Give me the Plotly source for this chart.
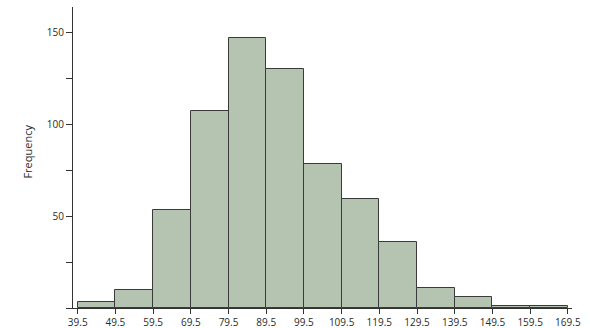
import plotly.graph_objects as go

bin_edges = [39.5, 49.5, 59.5, 69.5, 79.5, 89.5, 99.5, 109.5, 119.5, 129.5, 139.5, 149.5, 159.5, 169.5]
frequencies = [3, 10, 53, 107, 147, 130, 78, 59, 36, 11, 6, 1, 1]
y_tick_vals = [0, 25, 50, 75, 100, 125, 150]
y_tick_text = ["", "", "50", "", "100", "", "150"]
x_tick_text = [f"{v:.1f}" for v in bin_edges]

centers = [(bin_edges[i] + bin_edges[i + 1]) / 2 for i in range(len(frequencies))]
widths = [bin_edges[i + 1] - bin_edges[i] for i in range(len(frequencies))]

font_family = "Open Sans, Noto Sans, DejaVu Sans, sans-serif"

fig = go.Figure(
    go.Bar(
        x=centers,
        y=frequencies,
        width=widths,
        marker=dict(color="#b5c4b0", line=dict(color="#3a3a3a", width=1)),
        hoverinfo="skip",
    )
)

fig.update_layout(
    width=590,
    height=328,
    margin=dict(l=73, r=18, t=7, b=20),
    paper_bgcolor="white",
    plot_bgcolor="white",
    showlegend=False,
    font=dict(family=font_family, size=10, color="#2b2b2b"),
    bargap=0,
)

fig.update_xaxes(
    range=[38.25, 170.6],
    tickvals=bin_edges,
    ticktext=x_tick_text,
    ticks="outside",
    ticklen=5,
    tickcolor="#333333",
    showline=True,
    linecolor="#333333",
    linewidth=1,
    showgrid=False,
    zeroline=False,
    automargin=False,
    tickfont=dict(size=10, color="#2b2b2b"),
)

fig.update_yaxes(
    range=[0, 163.6],
    tickvals=y_tick_vals,
    ticktext=y_tick_text,
    ticks="outside",
    ticklen=6,
    tickcolor="#333333",
    showline=True,
    linecolor="#333333",
    linewidth=1,
    showgrid=False,
    zeroline=False,
    automargin=False,
    tickfont=dict(size=10, color="#2b2b2b"),
)

fig.add_annotation(
    text="Frequency",
    xref="paper",
    yref="paper",
    x=-0.092,
    y=0.52,
    xanchor="center",
    yanchor="middle",
    textangle=-90,
    showarrow=False,
    font=dict(family=font_family, size=11, color="#2b2b2b"),
)

fig.write_html("out.html")
